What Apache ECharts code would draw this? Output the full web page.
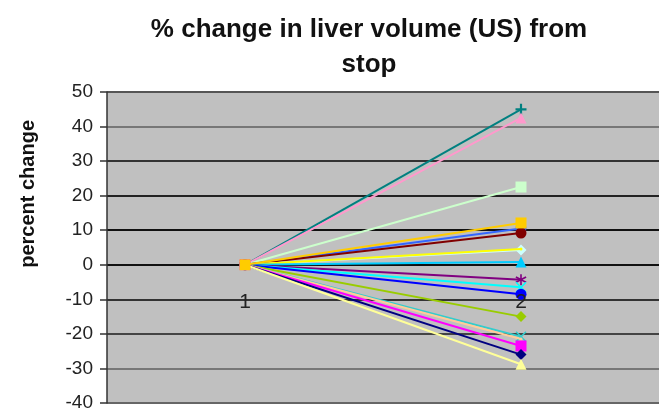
<!DOCTYPE html>
<html><head><meta charset="utf-8">
<script src="https://cdn.jsdelivr.net/npm/echarts@6/dist/echarts.min.js"></script>
<style>html,body{margin:0;padding:0;background:#fff}#c{width:659px;height:414px}</style>
</head><body><div id="c"></div>
<script>
const categories = ['1', '2'];
const yTicks = [-40, -30, -20, -10, 0, 10, 20, 30, 40, 50];
const seriesNames = ['S1','S2','S3','S4','S5','S6','S7','S8','S9','S10','S11','S12','S13','S14','S15','S16','S17','S18'];
const startValues = [0,0,0,0,0,0,0,0,0,0,0,0,0,0,0,0,0,0];
const endValues = [45, 42.5, 22.5, 10.5, 9.2, 4.3, 4.6, 0.8, -4.3, -6.5, -8.5, -15, -20.8, -21.5, -23.5, -26, -28.8, 12.1];
const colors = ['#008080','#FF99CC','#CCFFCC','#3366FF','#800000','#CCFFFF','#FFFF00','#00CCFF','#800080','#00FFFF','#0000FF','#99CC00','#33CCCC','#FFCC99','#FF00FF','#000080','#FFFF99','#FFCC00'];
const PLUS = 'path://M4,0H6V4H10V6H6V10H4V6H0V4H4Z';
const XMARK = 'path://M1,0L5,4L9,0L10,1L6,5L10,9L9,10L5,6L1,10L0,9L4,5L0,1Z';
const STAR = 'path://M4.3,0H5.7V3.8L9,2L9.7,3.2L6.4,5L9.7,6.8L9,8L5.7,6.2V10H4.3V6.2L1,8L0.3,6.8L3.6,5L0.3,3.2L1,2L4.3,3.8Z';
const symbols = [PLUS,'triangle','rect','circle','circle','diamond','none','triangle',STAR,XMARK,'circle','diamond',XMARK,'none','rect','diamond','triangle','rect'];

const chart = echarts.init(document.getElementById('c'), null, {renderer:'canvas'});
const series = seriesNames.map((n, i) => ({
  name: n, type: 'line',
  data: [startValues[i], endValues[i]],
  symbol: symbols[i] === 'none' ? 'circle' : symbols[i],
  symbolSize: symbols[i] === 'none' ? 3 : 11,
  showSymbol: true,
  itemStyle: {color: colors[i]},
  lineStyle: {color: colors[i], width: 2},
  z: 2 + i,
  animation: false
}));
chart.setOption({
  animation: false,
  backgroundColor: '#ffffff',
  title: {
    text: '% change in liver volume (US) from\nstop',
    left: 364, top: 7, textAlign: 'center',
    textStyle: {fontFamily: 'Liberation Sans, Arial, sans-serif', fontSize: 26, fontWeight: 'bold', color: '#111', lineHeight: 35}
  },
  graphic: [{
    type: 'text', left: 18, top: 120, rotation: Math.PI/2,
    style: {text: 'percent change', font: 'bold 20px "Liberation Sans", Arial, sans-serif', fill: '#111'}
  }],
  grid: {left: 107, right: 0, top: 92, bottom: 11, show: true, backgroundColor: '#C0C0C0', borderWidth: 0, outerBoundsMode: 'none', containLabel: false},
  xAxis: {
    type: 'category', data: categories, boundaryGap: true, position: 'bottom', offset: -138, z: 50,
    axisLine: {show: false, onZero: false},
    axisTick: {show: false},
    axisLabel: {margin: 27, fontSize: 21, color: '#222', fontFamily: 'Liberation Sans, Arial, sans-serif'},
    splitLine: {show: false}
  },
  yAxis: {
    type: 'value', min: yTicks[0], max: yTicks[yTicks.length-1], interval: 10,
    axisLine: {show: true, lineStyle: {color: '#333', width: 1.5}},
    axisTick: {show: true, length: 7, lineStyle: {color: '#333', width: 1.5}},
    axisLabel: {margin: 14, fontSize: 19, color: '#222', fontFamily: 'Liberation Sans, Arial, sans-serif'},
    splitLine: {show: true, lineStyle: {width: 2, color: ['#666','#777','#444','#333','#111','#111','#222','#333','#777','#555']}}
  },
  series: series
});
</script></body></html>
